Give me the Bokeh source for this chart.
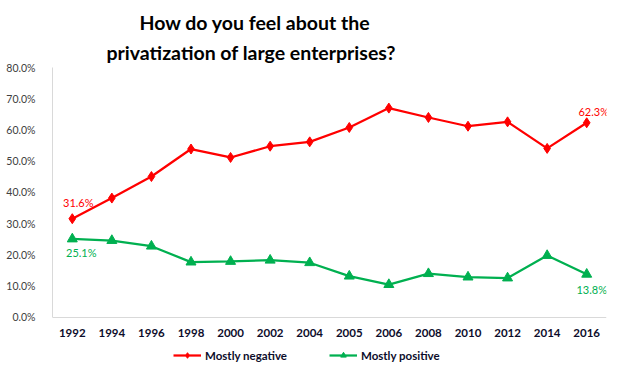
from bokeh.plotting import figure
from bokeh.models import (FactorRange, Range1d, FixedTicker, PrintfTickFormatter,
                          Title, Legend, LegendItem)
from bokeh.core.properties import value
from bokeh.embed import file_html
from bokeh.resources import INLINE

years = ["1992", "1994", "1996", "1998", "2000", "2002", "2004", "2005",
         "2006", "2008", "2010", "2012", "2014", "2016"]
negative = [31.6, 38.2, 45.1, 53.9, 51.2, 54.8, 56.2, 60.8, 67.0, 64.0, 61.2, 62.6, 54.1, 62.3]
positive = [25.1, 24.6, 22.8, 17.7, 17.9, 18.3, 17.5, 13.2, 10.5, 14.0, 12.9, 12.6, 19.8, 13.8]
y_ticks = [0, 10, 20, 30, 40, 50, 60, 70, 80]
title_lines = ["How do you feel about the", "privatization of large enterprises?"]
series_names = ["Mostly negative", "Mostly positive"]

RED = "#FF0000"
GREEN = "#00B050"
DARK = "#0D0D2B"
LABEL_FONT = "Lato"

# plot area reaches the bottom of the canvas so that the legend can sit below the
# x axis; the axis itself is pinned at 0 and the y axis is bounded to 0..80
Y_MIN_VIEW = -17.0

p = figure(width=617, height=370, x_range=FactorRange(*years),
           y_range=Range1d(Y_MIN_VIEW, 80),
           output_backend="svg", toolbar_location=None, title=None,
           min_border_left=52, min_border_right=11, min_border_top=67, min_border_bottom=0)
p.outline_line_color = None
p.xgrid.grid_line_color = None
p.ygrid.grid_line_color = None
p.background_fill_color = "white"
p.border_fill_color = "white"

# axes
p.yaxis.ticker = FixedTicker(ticks=y_ticks)
p.yaxis.bounds = (0, 80)
p.yaxis.formatter = PrintfTickFormatter(format="%.1f%%")
p.yaxis.axis_line_color = "#D9D9D9"
p.yaxis.major_tick_line_color = None
p.yaxis.minor_tick_line_color = None
p.yaxis.major_label_standoff = 11
p.yaxis.major_label_text_font = LABEL_FONT
p.yaxis.major_label_text_font_size = "10.5px"
p.yaxis.major_label_text_color = "#404040"

p.xaxis.fixed_location = 0
p.xaxis.axis_line_color = "#D9D9D9"
p.xaxis.major_tick_line_color = None
p.xaxis.minor_tick_line_color = None
p.xaxis.major_label_standoff = 6
p.xaxis.major_label_text_font = LABEL_FONT
p.xaxis.major_label_text_font_style = "bold"
p.xaxis.major_label_text_font_size = "11.5px"
p.xaxis.major_label_text_color = DARK

# lines
r1 = p.line(years, negative, line_color=RED, line_width=2.25)
m1 = p.scatter(years, negative, marker="diamond", size=10, fill_color=RED, line_color=RED)
r2 = p.line(years, positive, line_color=GREEN, line_width=2.25)
m2 = p.scatter(years, positive, marker="triangle", size=10, fill_color=GREEN, line_color=GREEN)

# data labels (first and last points)
def fmt(v):
    return f"{v:.1f}%"

label_specs = [
    (years[0], negative[0], RED, 6, -16),
    (years[-1], negative[-1], RED, 7, -11),
    (years[0], positive[0], GREEN, 9, 14),
    (years[-1], positive[-1], GREEN, 5, 15),
]
for xv, yv, col, dx, dy in label_specs:
    p.text([xv], [yv], text=[fmt(yv)], x_offset=dx, y_offset=dy,
           text_align="center", text_baseline="middle", text_color=col,
           text_font=value(LABEL_FONT), text_font_size="11px")

# title (two lines); items in "above" stack outward from the frame
for line, off, so in [(title_lines[1], 54, 8), (title_lines[0], 87, 2)]:
    p.add_layout(Title(text=line, align="left", offset=off, standoff=so,
                       text_font="Lato", text_font_style="bold", text_font_size="19.5px",
                       text_color="#000000"), "above")

legend = Legend(items=[LegendItem(label=series_names[0], renderers=[r1, m1]),
                       LegendItem(label=series_names[1], renderers=[r2, m2])],
                orientation="horizontal", location=(121, 8),
                padding=0, margin=0, spacing=42, label_standoff=4,
                glyph_width=28, glyph_height=14, label_height=14,
                border_line_color=None, background_fill_alpha=0,
                label_text_font=LABEL_FONT, label_text_font_size="11.5px",
                label_text_font_style="bold", label_text_color=DARK)
p.add_layout(legend, "center")

open("out.html", "w").write(file_html(p, INLINE))
